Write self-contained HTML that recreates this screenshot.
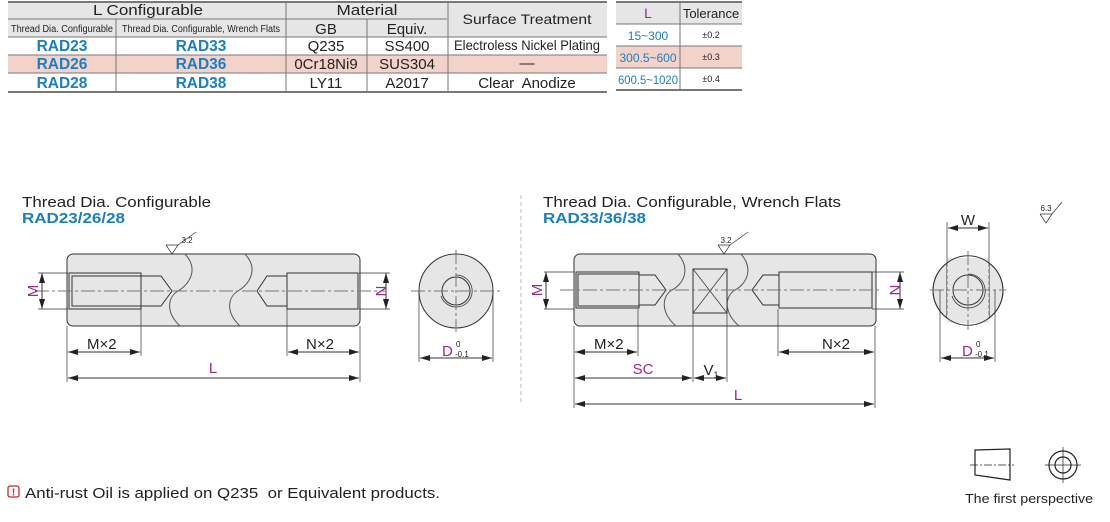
<!DOCTYPE html>
<html><head><meta charset="utf-8"><style>
body{margin:0;background:#fff;width:1110px;height:517px;overflow:hidden;font-family:"Liberation Sans",Arial,sans-serif}
svg text{font-family:"Liberation Sans",Arial,sans-serif}
</style></head><body>
<svg width="1110" height="517" viewBox="0 0 1110 517" xmlns="http://www.w3.org/2000/svg">
<defs>
<marker id="a" viewBox="0 0 10 6" refX="10" refY="3" markerWidth="10" markerHeight="6" orient="auto-start-reverse" markerUnits="userSpaceOnUse"><path d="M0,0L10,3L0,6z" fill="#222"/></marker>
</defs>
<!-- Table 1 -->
<rect x="8" y="2" width="599" height="35" fill="#e6e6e6"/>
<rect x="8" y="55" width="599" height="18" fill="#f3d3c9"/>
<g stroke="#777" stroke-width="1" fill="none">
<line x1="8" y1="2" x2="607" y2="2" stroke-width="2"/>
<line x1="8" y1="19" x2="447" y2="19"/>
<line x1="8" y1="37" x2="607" y2="37"/>
<line x1="8" y1="55" x2="607" y2="55"/>
<line x1="8" y1="73" x2="607" y2="73"/>
<line x1="8" y1="92" x2="607" y2="92" stroke-width="2"/>
<line x1="116" y1="19" x2="116" y2="92"/>
<line x1="286" y1="2" x2="286" y2="92"/>
<line x1="367" y1="19" x2="367" y2="92"/>
<line x1="448" y1="2" x2="448" y2="92"/>
</g>
<g font-size="15" fill="#222" text-anchor="middle">
<text x="148" y="15" textLength="110" lengthAdjust="spacingAndGlyphs">L Configurable</text>
<text x="367" y="15" textLength="61" lengthAdjust="spacingAndGlyphs">Material</text>
<text x="527" y="24" font-size="14" textLength="129" lengthAdjust="spacingAndGlyphs">Surface Treatment</text>
<text x="62" y="32" font-size="10" textLength="102" lengthAdjust="spacingAndGlyphs">Thread Dia. Configurable</text>
<text x="201" y="32" font-size="10" textLength="158" lengthAdjust="spacingAndGlyphs">Thread Dia. Configurable, Wrench Flats</text>
<text x="326" y="34">GB</text>
<text x="407" y="34">Equiv.</text>
<text x="326" y="51">Q235</text><text x="407" y="51">SS400</text>
<text x="527" y="50" font-size="14" textLength="146" lengthAdjust="spacingAndGlyphs">Electroless Nickel Plating</text>
<text x="326" y="69">0Cr18Ni9</text><text x="407" y="69">SUS304</text>
<text x="527" y="68">—</text>
<text x="326" y="88">LY11</text><text x="407" y="88">A2017</text>
<text x="527" y="88">Clear&#160; Anodize</text>
</g>
<g font-size="15.5" font-weight="bold" fill="#1a7fc0" text-anchor="middle">
<text x="62" y="51">RAD23</text><text x="201" y="51">RAD33</text>
<text x="62" y="69">RAD26</text><text x="201" y="69">RAD36</text>
<text x="62" y="88">RAD28</text><text x="201" y="88">RAD38</text>
</g>
<!-- Table 2 -->
<rect x="616" y="2" width="126" height="22" fill="#e6e6e6"/>
<rect x="616" y="46" width="126" height="22" fill="#f3d3c9"/>
<g stroke="#777" fill="none">
<line x1="616" y1="2" x2="742" y2="2" stroke-width="2"/>
<line x1="616" y1="24" x2="742" y2="24"/>
<line x1="616" y1="46" x2="742" y2="46"/>
<line x1="616" y1="68" x2="742" y2="68"/>
<line x1="616" y1="90" x2="742" y2="90" stroke-width="2"/>
<line x1="680" y1="2" x2="680" y2="90"/>
</g>
<text x="648" y="18" font-size="14" fill="#9b2a82" text-anchor="middle">L</text>
<text x="711" y="18" font-size="13" fill="#222" text-anchor="middle">Tolerance</text>
<g font-size="12" fill="#1a7fc0" text-anchor="middle">
<text x="648" y="40">15~300</text><text x="648" y="62">300.5~600</text><text x="648" y="84" textLength="60" lengthAdjust="spacingAndGlyphs">600.5~1020</text>
</g>
<g font-size="9" fill="#222" text-anchor="middle">
<text x="711" y="38">±0.2</text><text x="711" y="60">±0.3</text><text x="711" y="82">±0.4</text>
</g>

<!-- Titles -->
<text x="22" y="207" font-size="15" fill="#222" textLength="189" lengthAdjust="spacingAndGlyphs">Thread Dia. Configurable</text>
<text x="22" y="223" font-size="15" font-weight="bold" fill="#1a7fc0" textLength="103" lengthAdjust="spacingAndGlyphs">RAD23/26/28</text>
<text x="543" y="207" font-size="15" fill="#222" textLength="298" lengthAdjust="spacingAndGlyphs">Thread Dia. Configurable, Wrench Flats</text>
<text x="543" y="223" font-size="15" font-weight="bold" fill="#1a7fc0" textLength="103" lengthAdjust="spacingAndGlyphs">RAD33/36/38</text>
<line x1="521" y1="195" x2="521" y2="405" stroke="#bbb" stroke-dasharray="4,3"/>

<!-- Left part -->
<g stroke="#333" stroke-width="1" fill="none">
<rect x="67" y="254" width="293" height="72" rx="6" fill="#e6e6e6"/>
<rect x="69" y="273" width="72" height="36"/>
<rect x="72" y="276" width="69" height="30"/>
<path d="M141,276H161L172,291L161,306H141"/>
<rect x="287" y="273" width="71" height="36"/>
<path d="M287,276H267L257,291L267,306H287"/>
<path d="M185,254C200,270 188,285 178,291C168,297 165,312 180,326" stroke="#555"/>
<path d="M245,254C260,270 248,285 238,291C228,297 225,312 240,326" stroke="#555"/>
<line x1="35" y1="291" x2="385" y2="291" stroke="#777" stroke-dasharray="14,3,3,3"/>
<line x1="38" y1="273" x2="68" y2="273" stroke-width=".7"/><line x1="38" y1="309" x2="68" y2="309" stroke-width=".7"/>
<line x1="42" y1="273" x2="42" y2="309" marker-start="url(#a)" marker-end="url(#a)"/>
<line x1="359" y1="273" x2="390" y2="273" stroke-width=".7"/><line x1="359" y1="309" x2="390" y2="309" stroke-width=".7"/>
<line x1="386" y1="273" x2="386" y2="309" marker-start="url(#a)" marker-end="url(#a)"/>
<line x1="67" y1="326" x2="67" y2="382" stroke-width=".7"/>
<line x1="141" y1="309" x2="141" y2="356" stroke-width=".7"/>
<line x1="287" y1="309" x2="287" y2="356" stroke-width=".7"/>
<line x1="360" y1="326" x2="360" y2="382" stroke-width=".7"/>
<line x1="68" y1="352" x2="140" y2="352" marker-start="url(#a)" marker-end="url(#a)"/>
<line x1="288" y1="352" x2="359" y2="352" marker-start="url(#a)" marker-end="url(#a)"/>
<line x1="68" y1="378" x2="359" y2="378" marker-start="url(#a)" marker-end="url(#a)"/>
<circle cx="456" cy="291" r="37" fill="#e6e6e6"/>
<circle cx="456" cy="291" r="14"/>
<path d="M456,275A16,16 0 1,1 441,296" stroke-width=".8"/>
<line x1="411" y1="291" x2="503" y2="291" stroke="#777" stroke-dasharray="14,3,3,3"/>
<line x1="456" y1="250" x2="456" y2="332" stroke="#777" stroke-dasharray="14,3,3,3"/>
<line x1="419" y1="291" x2="419" y2="362" stroke-width=".7"/><line x1="493" y1="291" x2="493" y2="362" stroke-width=".7"/>
<line x1="420" y1="358" x2="492" y2="358" marker-start="url(#a)" marker-end="url(#a)"/>
<path d="M166,245L172,254L178,245M166,245H178L196,232" stroke-width=".7"/>
</g>
<text x="187" y="243" font-size="8" fill="#222" text-anchor="middle">3.2</text>
<g fill="#9b2a82" font-size="15">
<text x="0" y="0" transform="translate(38,291) rotate(-90)" text-anchor="middle">M</text>
<text x="0" y="0" transform="translate(376,291) rotate(90)" text-anchor="middle">N</text>
<text x="213" y="373" text-anchor="middle">L</text>
<text x="442" y="356">D</text>
</g>
<text x="456" y="347" font-size="8" fill="#222">0</text>
<text x="455" y="357" font-size="8" fill="#222">-0.1</text>
<text x="87" y="349" font-size="15" fill="#222">M×2</text>
<text x="306" y="349" font-size="15" fill="#222">N×2</text>

<!-- Right part -->
<g stroke="#333" stroke-width="1" fill="none">
<rect x="574" y="254" width="302" height="72" rx="6" fill="#e6e6e6"/>
<rect x="576" y="272" width="63" height="36"/>
<rect x="578" y="274" width="61" height="32"/>
<path d="M639,275H655L666,290L655,305H639"/>
<rect x="779" y="272" width="93" height="36"/>
<path d="M779,275H763L752,290L763,305H779"/>
<rect x="693" y="269" width="34" height="44" fill="#e6e6e6"/>
<path d="M693,269L727,313M727,269L693,313" stroke-width=".7"/>
<path d="M678,254C692,270 682,285 672,290C662,296 660,312 676,326" stroke="#555"/>
<path d="M741,254C755,270 745,285 735,290C725,296 723,312 739,326" stroke="#555"/>
<line x1="560" y1="290" x2="880" y2="290" stroke="#777" stroke-dasharray="14,3,3,3"/>
<line x1="544" y1="272" x2="574" y2="272" stroke-width=".7"/><line x1="544" y1="309" x2="574" y2="309" stroke-width=".7"/>
<line x1="546" y1="272" x2="546" y2="309" marker-start="url(#a)" marker-end="url(#a)"/>
<line x1="872" y1="272" x2="904" y2="272" stroke-width=".7"/><line x1="872" y1="309" x2="904" y2="309" stroke-width=".7"/>
<line x1="900" y1="272" x2="900" y2="309" marker-start="url(#a)" marker-end="url(#a)"/>
<line x1="574" y1="326" x2="574" y2="408" stroke-width=".7"/>
<line x1="638" y1="309" x2="638" y2="356" stroke-width=".7"/>
<line x1="693" y1="313" x2="693" y2="382" stroke-width=".7"/>
<line x1="727" y1="313" x2="727" y2="382" stroke-width=".7"/>
<line x1="778" y1="309" x2="778" y2="356" stroke-width=".7"/>
<line x1="875" y1="326" x2="875" y2="408" stroke-width=".7"/>
<line x1="575" y1="352" x2="637" y2="352" marker-start="url(#a)" marker-end="url(#a)"/>
<line x1="779" y1="352" x2="874" y2="352" marker-start="url(#a)" marker-end="url(#a)"/>
<line x1="575" y1="378" x2="692" y2="378" marker-start="url(#a)" marker-end="url(#a)"/>
<line x1="694" y1="378" x2="726" y2="378" marker-start="url(#a)" marker-end="url(#a)"/>
<line x1="575" y1="404" x2="874" y2="404" marker-start="url(#a)" marker-end="url(#a)"/>
<path d="M947,263A34,34 0 0,0 947,318ZM989,263A34,34 0 0,1 989,318Z" fill="#e6e6e6"/>
<rect x="947" y="258" width="42" height="65" fill="#e6e6e6" stroke="none"/>
<path d="M947,263A34,34 0 0,1 989,263M947,318A34,34 0 0,0 989,318"/>
<path d="M947,263A34,34 0 0,0 947,318M989,263A34,34 0 0,1 989,318"/>
<line x1="947" y1="263" x2="947" y2="318" stroke-dasharray="4,2" stroke-width=".7"/>
<line x1="989" y1="263" x2="989" y2="318" stroke-dasharray="4,2" stroke-width=".7"/>
<circle cx="968" cy="290" r="15"/>
<path d="M968,274A17,17 0 1,1 952,296" stroke-width=".8"/>
<line x1="930" y1="290" x2="1006" y2="290" stroke="#777" stroke-dasharray="14,3,3,3"/>
<line x1="968" y1="251" x2="968" y2="330" stroke="#777" stroke-dasharray="14,3,3,3"/>
<line x1="947" y1="222" x2="947" y2="263" stroke-width=".7"/><line x1="989" y1="222" x2="989" y2="263" stroke-width=".7"/>
<line x1="948" y1="228" x2="988" y2="228" marker-start="url(#a)" marker-end="url(#a)"/>
<line x1="940" y1="290" x2="940" y2="362" stroke-width=".7"/><line x1="995" y1="290" x2="995" y2="362" stroke-width=".7"/>
<line x1="941" y1="358" x2="994" y2="358" marker-start="url(#a)" marker-end="url(#a)"/>
<path d="M718,245L724,254L730,245M718,245H730L748,232" stroke-width=".7"/>
<path d="M1040,214L1046,223L1052,214M1040,214H1052L1062,202" stroke-width=".7"/>
</g>
<text x="726" y="243" font-size="8" fill="#222" text-anchor="middle">3.2</text>
<text x="1046" y="211" font-size="8" fill="#222" text-anchor="middle">6.3</text>
<g fill="#9b2a82" font-size="15">
<text x="0" y="0" transform="translate(542,290) rotate(-90)" text-anchor="middle">M</text>
<text x="0" y="0" transform="translate(890,290) rotate(90)" text-anchor="middle">N</text>
<text x="643" y="374" text-anchor="middle">SC</text>
<text x="738" y="400" text-anchor="middle">L</text>
<text x="962" y="356">D</text>
</g>
<text x="968" y="225" font-size="15" fill="#222" text-anchor="middle">W</text>
<text x="711" y="375" font-size="15" fill="#222" text-anchor="middle">V<tspan font-size="9" dy="3">1</tspan></text>
<text x="976" y="347" font-size="8" fill="#222">0</text>
<text x="975" y="357" font-size="8" fill="#222">-0.1</text>
<text x="594" y="349" font-size="15" fill="#222">M×2</text>
<text x="822" y="349" font-size="15" fill="#222">N×2</text>

<!-- bottom note -->
<rect x="8" y="486" width="11" height="11" rx="2" fill="none" stroke="#c0282d" stroke-width="1.3"/>
<text x="13.5" y="495.5" font-size="10" font-weight="bold" fill="#c0282d" text-anchor="middle">!</text>
<text x="25" y="498" font-size="15" fill="#222" textLength="415" lengthAdjust="spacingAndGlyphs">Anti-rust Oil is applied on Q235&#160; or Equivalent products.</text>

<!-- first perspective -->
<g stroke="#222" fill="none" stroke-width="1.2">
<path d="M975,450L1010,449L1010,480L975,475Z"/>
<line x1="970" y1="465" x2="1014" y2="465" stroke-width=".7" stroke-dasharray="8,2,2,2"/>
<circle cx="1063" cy="465" r="14"/>
<circle cx="1063" cy="465" r="8"/>
<line x1="1045" y1="465" x2="1081" y2="465" stroke-width=".7"/>
<line x1="1063" y1="447" x2="1063" y2="483" stroke-width=".7"/>
</g>
<text x="965" y="503" font-size="13" fill="#222" textLength="128" lengthAdjust="spacingAndGlyphs">The first perspective</text>
</svg>
</body></html>
